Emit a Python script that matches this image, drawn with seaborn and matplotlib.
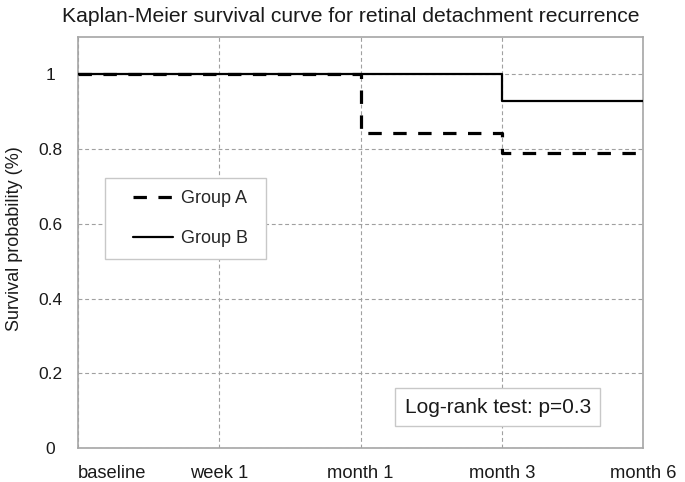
import numpy as np
import pandas as pd
import matplotlib
matplotlib.use("Agg")
import matplotlib.pyplot as plt
import matplotlib.patches as mpatches
import seaborn as sns

# --- data ---
time_labels = ["baseline", "week 1", "month 1", "month 3", "month 6"]
group_a = [1.0, 1.0, 0.843, 0.789, 0.789]
group_b = [1.0, 1.0, 1.0, 0.928, 0.928]
y_ticks = [0, 0.2, 0.4, 0.6, 0.8, 1.0]
y_tick_labels = ["0", "0.2", "0.4", "0.6", "0.8", "1"]
p_text = "Log-rank test: p=0.3"

sns.set_style("white")
plt.rcParams["font.family"] = ["Liberation Sans", "DejaVu Sans"]

df = pd.DataFrame({
    "t": list(range(len(time_labels))) * 2,
    "survival": group_a + group_b,
    "group": ["Group A"] * len(group_a) + ["Group B"] * len(group_b),
})

fig = plt.figure(figsize=(6.85, 4.82), dpi=100)
ax = fig.add_axes([0.1139, 0.0705, 0.8248, 0.8527])

sns.lineplot(data=df, x="t", y="survival", style="group",
             dashes={"Group A": (4.2, 3.6), "Group B": ""},
             color="black", drawstyle="steps-post", estimator=None,
             legend=False, ax=ax, zorder=3)
ax.lines[0].set_linewidth(2.3)
ax.lines[1].set_linewidth(1.6)

grid_col = "#a0a0a0"
ax.set_xlim(0, len(time_labels) - 1)
ax.set_ylim(0, 1.1)
ax.set_yticks(y_ticks)
ax.set_yticklabels(y_tick_labels)
ax.set_xticks(range(len(time_labels)))
ax.set_xticklabels(time_labels)
ax.grid(True, color=grid_col, linestyle=(0, (3.5, 2.5)), linewidth=0.8)
ax.set_axisbelow(True)
ax.tick_params(length=0, labelcolor="#1a1a1a")
ax.tick_params(axis="y", pad=20, labelsize=12.5)
ax.tick_params(axis="x", pad=12, labelsize=13.2)
for lab in ax.get_yticklabels():
    lab.set_horizontalalignment("center")
ax.get_xticklabels()[0].set_horizontalalignment("left")
ax.set_xlabel("")
ax.set_ylabel("")
for s in ax.spines.values():
    s.set_color("#a6a6a6")
    s.set_linewidth(1.2)
    s.set_visible(True)

# legend with a wider white box behind it
box = mpatches.Rectangle((0.048, 0.46), 0.285, 0.197, transform=ax.transAxes,
                         facecolor="white", edgecolor="#c8c8c8", lw=1.0, zorder=4)
ax.add_patch(box)
leg = ax.legend(handles=ax.lines[:2], labels=["Group A", "Group B"],
                loc="center left", bbox_to_anchor=(0.085, 0.558),
                frameon=False, fontsize=13, handlelength=2.2,
                handletextpad=0.45, labelspacing=1.25, borderaxespad=0)
leg.set_zorder(5)

ax.text(0.743, 0.099, p_text, transform=ax.transAxes, ha="center", va="center",
        fontsize=15, color="#1a1a1a", zorder=5,
        bbox=dict(boxstyle="square,pad=0.45", facecolor="white",
                  edgecolor="#c8c8c8", lw=1.0))

fig.text(351 / 685, 1 - 17 / 482,
         "Kaplan-Meier survival curve for retinal detachment recurrence",
         ha="center", va="center", fontsize=15.2, color="#1a1a1a")
fig.text(15 / 685, 1 - 239 / 482, "Survival probability (%)", rotation=90,
         ha="center", va="center", fontsize=13, color="#1a1a1a")

fig.savefig("out.png", dpi=100)
